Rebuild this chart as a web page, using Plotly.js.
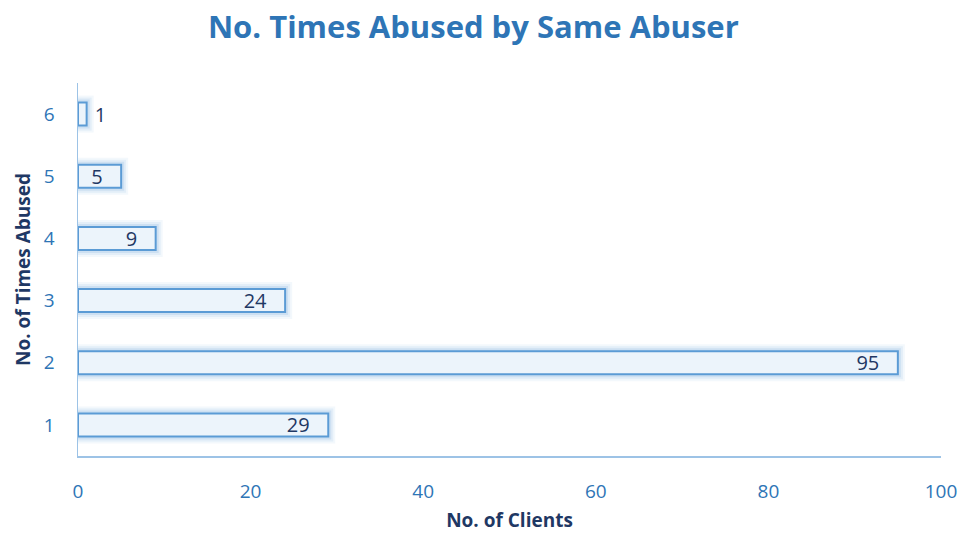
<!DOCTYPE html>
<html><head><meta charset="utf-8">
<script src="https://cdn.plot.ly/plotly-3.0.1.min.js"></script>
<style>html,body{margin:0;padding:0;background:#fff}</style>
</head><body>
<div id="chart" style="width:964px;height:533px"></div>
<script>
const categories = ["1", "2", "3", "4", "5", "6"];
const clients = [29, 95, 24, 9, 5, 1];
const labels = ["29", "95", "24", "9", "5", "1"];

const font = "Open Sans, Liberation Sans, sans-serif";
const nb = "\u00a0";
const barText = labels.map(l => nb + l + nb + nb + nb);
const glow = (w, a) => ({
  type: "bar", orientation: "h", x: clients, y: categories, width: 0.37,
  marker: {color: "rgba(0,0,0,0)", line: {color: "rgba(91,155,213," + a + ")", width: w}},
  hoverinfo: "skip", showlegend: false
});
const traces = [
  glow(14, 0.07), glow(10, 0.1), glow(6, 0.16),
  {
    type: "bar", orientation: "h", x: clients, y: categories, width: 0.37,
    marker: {color: "rgba(236,244,251,1)", line: {color: "#5B9BD5", width: 2}},
    text: barText, textposition: "auto", insidetextanchor: "end", textangle: 0,
    textfont: {family: font, size: 20, color: "#1F3864"},
    outsidetextfont: {family: font, size: 20, color: "#1F3864"},
    insidetextfont: {family: font, size: 20, color: "#1F3864"},
    constraintext: "none", cliponaxis: false, showlegend: false
  }
];
const layout = {
  width: 964, height: 533,
  margin: {l: 78, r: 23, t: 83, b: 77},
  paper_bgcolor: "#fff", plot_bgcolor: "#fff",
  barmode: "overlay",
  title: {text: "<b>No. Times Abused by Same Abuser</b>", x: 0.491, xref: "container", xanchor: "center",
          y: 0.95, yref: "container", yanchor: "middle",
          font: {family: font, size: 31, color: "#2E75B6"}},
  xaxis: {range: [0, 100], dtick: 20, showgrid: false, zeroline: false,
          showline: true, linecolor: "#9DC3E6", linewidth: 1.5,
          tickfont: {family: font, size: 19, color: "#2E75B6"}, ticks: "outside", ticklen: 18, tickcolor: "rgba(0,0,0,0)",
          title: {text: "<b>No. of Clients</b>", font: {family: font, size: 19, color: "#1F3864"}, standoff: 10}},
  yaxis: {type: "category", range: [-0.5, 5.5], showgrid: false, zeroline: false,
          showline: true, linecolor: "#9DC3E6", linewidth: 1.5,
          tickfont: {family: font, size: 19, color: "#2E75B6"}, ticks: "outside", ticklen: 18, tickcolor: "rgba(0,0,0,0)",
          title: {text: "<b>No. of Times Abused</b>", font: {family: font, size: 19, color: "#1F3864"}, standoff: 8}},
};
Plotly.newPlot("chart", traces, layout, {displayModeBar: false, staticPlot: true});
</script>
</body></html>
